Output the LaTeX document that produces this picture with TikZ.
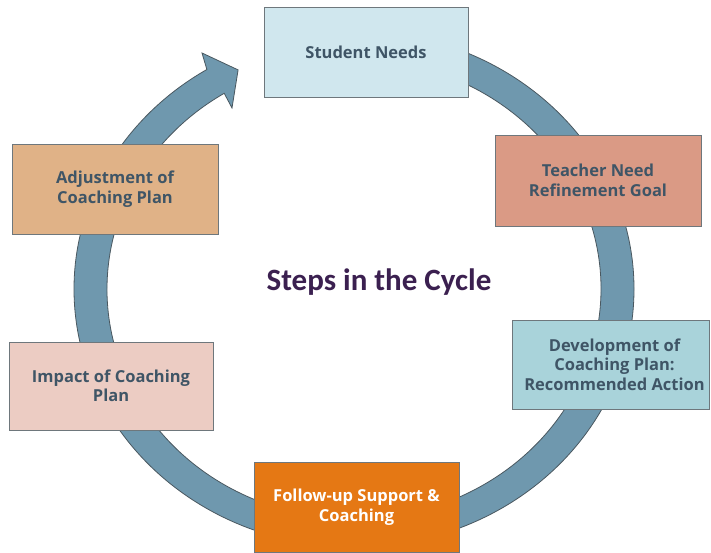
\documentclass[tikz,border=0pt]{standalone}
\usepackage{fontspec}
\setmainfont{Open Sans}
\newfontfamily\titlefont{Carlito}
\usetikzlibrary{calc}
\definecolor{ringfill}{HTML}{6F98AE}
\definecolor{ringline}{HTML}{4A5860}
\definecolor{boxline}{HTML}{6E777C}
\definecolor{txt}{HTML}{3F5566}
\definecolor{titlecol}{HTML}{3B2050}
\definecolor{cStudent}{HTML}{D0E7EE}
\definecolor{cTeacher}{HTML}{DA9A85}
\definecolor{cAdjust}{HTML}{E0B287}
\definecolor{cDevelop}{HTML}{A9D3DA}
\definecolor{cImpact}{HTML}{ECCCC3}
\definecolor{cFollow}{HTML}{E57814}
\begin{document}
\begin{tikzpicture}[x=1pt,y=1pt,
  boxtext/.style={inner sep=0pt, align=center,
    text=txt, font=\bfseries\fontsize{16.5}{19.5}\selectfont},
  box/.style={boxtext, draw=boxline, line width=0.9pt},
  titlestyle/.style={text=titlecol, font=\titlefont\bfseries\fontsize{31}{36}\selectfont}]
\useasboundingbox (0,0) rectangle (711,553);
% ring arrow
\path[draw=ringline, fill=ringfill, line width=0.8pt]
  ({354+280*cos(90)},{264+258*sin(90)})
  arc[start angle=90, end angle=-238.3, x radius=280, y radius=258]
  -- (202,500) -- (238.1,483.1) -- (232,445)
  -- ({354+247*cos(-238.3)},{264+230*sin(-238.3)})
  arc[start angle=-238.3, end angle=90, x radius=247, y radius=230]
  -- cycle;
% boxes
\node[box, fill=cStudent, minimum width=204, minimum height=90] (student) at (366,501) {Student Needs};
\node[box, fill=cTeacher, minimum width=206, minimum height=91] (teacher) at (598,372.5) {Teacher Need\\Refinement Goal};
\node[box, fill=cAdjust, minimum width=206, minimum height=90] (adjust) at (115,364) {Adjustment of\\Coaching Plan};
\node[box, fill=cDevelop, minimum width=197, minimum height=89] (develop) at (610.5,188.5) {};
\node[boxtext] (developtext) at ([xshift=4]develop.center) {Development of\\Coaching Plan:\\Recommended Action};
\node[box, fill=cImpact, minimum width=204, minimum height=88] (impact) at (111,167) {Impact of Coaching\\Plan};
\node[box, fill=cFollow, text=white, minimum width=205, minimum height=90] (follow) at (356.5,46) {Follow-up Support \&\\Coaching};
\node[titlestyle] (title) at (379,270.5) {Steps in the Cycle};
\end{tikzpicture}
\end{document}
